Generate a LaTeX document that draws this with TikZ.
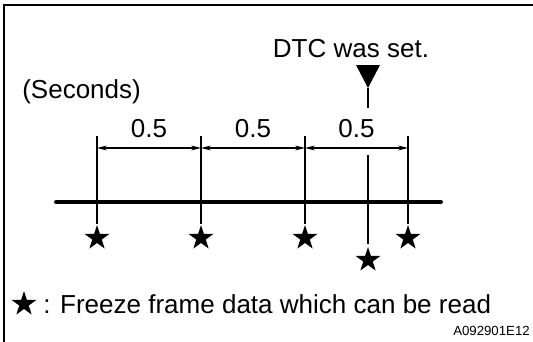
\documentclass[tikz,border=0pt]{standalone}
\usepackage{fontspec}
\setmainfont{Liberation Sans}
\usepackage{tikz}
\usetikzlibrary{calc,arrows.meta,shapes.geometric}

\tikzset{
  lbl/.style={inner sep=0pt, font=\fontsize{18.5}{22}\selectfont},
  mark star/.style={star, star points=5, star point ratio=2.6, fill=black, draw=none, inner sep=0pt, minimum size=0.65cm},
  tick/.style={line width=0.8pt},
  dim/.style={line width=0.8pt, {Stealth[length=7pt,width=3.5pt]}-{Stealth[length=7pt,width=3.5pt]}}
}

\begin{document}
\begin{tikzpicture}[x=0.025cm, y=-0.025cm]
    \useasboundingbox (0,0) rectangle (533,342);
    % Draw frame
    \draw[line width=1.4pt] (4,342) -- (4,5) -- (533,5);
    % Draw time line
    \draw[line width=2.8pt, line cap=round] (56,202) coordinate (tl) -- (441,202) coordinate (tr);
    % Ticks and freeze frame stars
    \foreach \n/\x in {1/97, 2/201, 3/305, 4/408} {
        \coordinate (top\n) at (\x,136);
        \coordinate (bot\n) at (\x,224);
        \draw[tick] (top\n) -- (bot\n);
        \node[mark star] (s\n) at (\x,238) {};
    }
    % Interval dimensions
    \foreach \a/\b in {1/2, 2/3, 3/4} {
        \draw[dim] ($(top\a)!0.136!(bot\a)$) coordinate (da\a) -- ($(top\b)!0.136!(bot\b)$) coordinate (db\a);
        \node[lbl, anchor=base] (half\a) at ($($(top\a)!0.5!(top\b)$)+(0,1)$) {0.5};
    }
    % DTC was set
    \node[lbl, anchor=base] (dtc) at (351,57) {DTC was set.};
    \fill (356,65) coordinate (trl) -- (380,65) coordinate (trr) -- (368,88) coordinate (tip) -- cycle;
    \draw[tick] (tip) -- (368,108) coordinate (dtcend);
    \draw[tick] (368,155) coordinate (dtctop) -- (368,244) coordinate (dtcbot);
    \node[mark star] (s5) at (368,260) {};
    \node[lbl, anchor=base west] (sec) at (22,98) {(Seconds)};
    % Legend
    \node[mark star] (key) at (24,304) {};
    \node[lbl, anchor=base west] (legend) at (43,313) {: Freeze frame data which can be read};
    \node[inner sep=0pt, anchor=base east, font=\fontsize{9.4}{11}\selectfont] (code) at (530,335) {A092901E12};
\end{tikzpicture}
\end{document}
